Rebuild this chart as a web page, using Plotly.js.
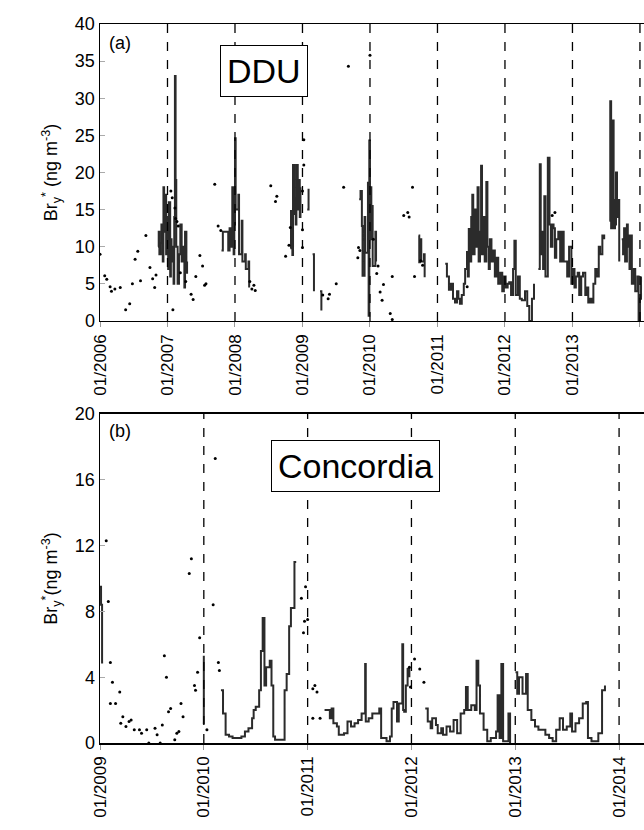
<!DOCTYPE html>
<html><head><meta charset="utf-8">
<script src="https://cdn.plot.ly/plotly-3.0.1.min.js"></script>
<style>body{margin:0;background:#fff}</style></head>
<body><div id="c" style="width:644px;height:830px"></div>
<script>
// ---- DDU (panel a) ----
const ddLineX = [2006.86,2006.87,2006.88,2006.90,2006.91,2006.93,2006.94,2006.95,2006.97,2006.98,2007.00,2007.01,2007.02,2007.04,2007.05,2007.06,2007.08,2007.09,2007.10,2007.11,2007.12,2007.13,2007.15,2007.17,2007.19,2007.21,2007.23,2007.25,2007.26,2007.28,2007.29,null,
 2007.80,2007.82,2007.90,2007.92,2007.95,2007.96,2007.98,2007.99,2008.00,2008.01,2008.05,2008.06,2008.10,2008.11,2008.15,2008.16,2008.20,2008.21,null,
 2008.82,2008.83,2008.85,2008.86,2008.88,2008.89,2008.90,2008.91,2008.93,2008.94,2008.96,2008.97,null,
 2009.07,2009.09,null,2009.15,2009.17,null,2009.26,2009.28,null,
 2009.84,2009.86,2009.88,2009.89,2009.92,2009.93,2009.97,2009.98,2009.99,2010.00,2010.01,2010.02,2010.03,2010.04,2010.08,2010.09,null,
 2010.72,2010.73,2010.74,2010.76,2010.80,2010.81,null,
 2011.115,2011.14,2011.17,2011.20,2011.23,2011.26,2011.29,2011.31,2011.333,2011.36,2011.39,2011.41,2011.438,2011.45,2011.464,2011.48,2011.50,2011.516,2011.53,2011.55,2011.57,2011.594,2011.61,2011.63,2011.646,2011.66,2011.68,2011.70,2011.724,2011.74,2011.76,2011.776,2011.80,2011.828,2011.85,2011.88,2011.90,2011.93,2011.96,2011.984,2012.01,2012.04,2012.063,2012.09,2012.12,2012.14,2012.16,2012.193,2012.22,2012.25,2012.297,2012.33,2012.36,2012.40,2012.43,2012.463,null,
 2012.495,2012.516,2012.53,2012.545,2012.565,2012.583,2012.60,2012.635,2012.66,2012.68,2012.703,2012.72,2012.74,2012.76,2012.79,2012.818,2012.84,2012.87,
 2012.922,2012.95,2012.984,2013.00,2013.03,2013.05,2013.078,2013.10,2013.13,2013.156,2013.19,2013.21,2013.234,2013.26,2013.286,2013.31,2013.338,2013.36,2013.39,2013.41,2013.443,2013.47,2013.495,null,
 2013.547,2013.56,2013.573,2013.59,2013.61,2013.62,2013.63,2013.645,2013.66,2013.675,2013.693,2013.70,null,
 2013.73,2013.75,2013.765,2013.78,2013.807,2013.82,2013.833,2013.845,2013.86,2013.88,2013.91,2013.93,2013.963,2013.98,2014.00,2014.016,2014.04];
const ddLineY = [10,12,9,10.5,13,8,18,12,17,9,14,7,16,6,11,8,10,5,14,33,19,10,5,9,13,8,10,4.5,12,6.5,8,null,
 9.5,12,9.5,12.5,10,18,9,13,24.6,15,17,9,13.5,8,9,7,8,4.5,null,
 9.8,14.8,8.9,21,14.4,16.5,13,21,15,19,14,18,null,
 15,17.8,null,9,4,null,4,1.4,null,
 16.4,17.5,12.8,6.1,14,9.2,18.6,0.7,24.3,11,18,11.5,15.5,7.4,12,8,null,
 11.5,7.9,11,8,9,5.9,null,
 7.7,6,4.2,5,3,2.5,4,3,2.3,3.5,5,7,9.3,6,12.4,8,14,17,9,15,10,18,8,12,20.9,9,14,8,18.7,10,7,11,8,9.5,6,8.5,5,6.5,4,6,4.5,5,5.2,3.5,7,10.8,3.5,6,3,2.8,4,2,0,3,5,null,
 8,7,21.1,9,12,7,16.8,6,22,13,10,13,12.5,8.5,11,12,8,12,
 8,6,10,5,7,4.5,6,6.5,3.5,6,6.5,3.5,4.5,2.5,3,2.5,5,7,6,10,9,11.5,11,null,
 30.2,13.5,29.6,12.5,27,16.3,12.5,13,20,14,16.3,8,null,
 7,11,9,12.5,8,13,10,11.5,7,11.5,5,7,4,6,0,3,6];
const ddDotX = [2006.00,2006.07,2006.10,2006.15,2006.17,2006.22,2006.30,2006.38,2006.44,2006.48,2006.52,2006.56,2006.60,2006.68,2006.74,2006.78,2006.81,2006.83,
 2007.05,2007.07,2007.08,2007.11,2007.12,2007.14,2007.16,2007.19,2007.27,2007.35,2007.38,2007.42,2007.48,2007.52,2007.55,2007.57,2007.70,2007.75,2007.79,
 2008.22,2008.25,2008.28,2008.30,2008.53,2008.60,2008.62,2008.75,2008.80,2008.82,2009.00,2009.00,2009.00,2009.02,2009.02,
 2009.30,2009.38,2009.40,2009.50,2009.61,2009.68,2009.82,2009.83,2009.85,2010.00,2010.05,2010.10,2010.12,2010.15,2010.18,2010.20,2010.30,2010.33,2010.33,
 2010.50,2010.56,2010.58,2010.63,2010.66,2010.75,2010.78,2011.44,2012.70,2012.74];
const ddDotY = [9.0,6.1,5.6,4.6,4.0,4.3,4.5,1.5,2.3,5.0,8.3,9.4,5.4,11.5,7.2,5.7,4.5,6.2,
 17.5,16.6,1.5,15.2,13.8,13.4,12.8,6.5,5.3,3.6,2.9,6.0,8.8,7.4,4.8,5.0,18.4,12.8,12.2,
 5.3,4.3,4.8,4.1,18.2,16.1,16.8,8.7,10.2,12.6,17.5,12.3,9.9,21,24.4,
 3.5,3.0,3.6,5.0,18.0,34.3,8.5,9.9,9.5,35.8,11.0,6.4,7.4,3.9,2.8,4.9,1.0,0.2,6.0,
 14.2,14.6,14.0,18.0,6.0,8.1,7.5,4.6,14.2,14.6];

// ---- Concordia (panel b) ----
const coLineX = [2009.00,2009.01,2009.02,2009.03,null,2009.99,2010.00,null,
 2010.165,2010.185,2010.21,2010.243,2010.277,2010.362,2010.396,2010.43,2010.465,2010.48,2010.50,2010.533,2010.55,2010.567,2010.584,2010.60,2010.635,2010.652,2010.669,2010.686,2010.737,2010.771,2010.778,2010.798,2010.822,2010.839,2010.873,2010.89,null,
 2011.163,2011.214,2011.231,2011.248,2011.282,2011.30,2011.35,2011.384,2011.418,2011.452,2011.486,2011.52,2011.554,2011.56,2011.588,2011.623,2011.657,2011.69,2011.708,2011.76,2011.793,2011.81,2011.827,2011.861,2011.878,2011.912,2011.92,2011.93,2011.946,2011.963,2011.98,null,
 2012.133,2012.157,2012.185,2012.20,2012.236,2012.253,2012.287,2012.304,2012.338,2012.372,2012.406,2012.44,2012.474,2012.508,2012.525,2012.542,2012.576,2012.61,2012.627,2012.644,2012.66,2012.695,2012.73,2012.764,2012.815,2012.83,2012.849,2012.866,2012.883,2012.934,2012.95,null,
 2013.002,2013.019,2013.036,2013.07,2013.104,2013.12,2013.155,2013.19,2013.223,2013.257,2013.29,2013.326,2013.36,2013.394,2013.428,2013.46,2013.496,2013.53,2013.547,2013.58,2013.615,2013.65,2013.683,2013.70,2013.734,2013.768,2013.80,2013.836,2013.864];
const coLineY = [9.5,8.4,4.9,4.9,null,1.2,5.3,null,
 3.2,1.8,0.5,0.4,0.3,0.4,0.7,0.9,1.5,2.0,2.2,3.2,5.6,7.6,3.5,4.6,5.0,3.5,0.4,0.2,0.2,0.2,3.2,4.2,7.1,8.2,11.0,11.0,null,
 2.0,1.5,2.1,1.2,1.0,0.5,0.6,1.3,1.0,1.2,1.4,1.8,4.8,1.3,1.5,1.8,1.8,2.1,0.3,0.1,0.4,2.1,2.5,1.3,2.4,6.0,2.0,1.9,3.5,4.5,4.0,null,
 2.1,1.3,0.9,1.5,1.1,0.6,0.9,0.5,1.0,0.7,1.4,0.6,1.8,2.0,3.4,2.0,2.3,2.0,5.0,3.5,1.8,0.8,0.1,0.3,0.7,2.9,0.3,4.8,0.1,1.8,0,null,
 4.3,3.0,4.0,3.0,4.2,2.0,1.4,1.0,0.8,0.8,0.5,0.3,0.1,0.8,1.5,0.8,1.0,1.8,0.7,1.2,1.5,2.4,2.5,0.3,0.1,0.1,0.6,3.2,3.5];
const coDotX = [2009.06,2009.08,2009.10,2009.12,2009.10,2009.15,2009.19,2009.20,2009.22,2009.25,2009.28,2009.30,2009.33,2009.38,2009.40,2009.45,2009.47,2009.53,2009.55,2009.58,2009.60,2009.62,2009.64,2009.66,2009.68,2009.72,2009.74,2009.76,2009.78,2009.80,2009.86,2009.88,2009.91,2009.92,2009.94,2009.96,
 2010.03,2010.09,2010.11,2010.14,2010.15,2010.94,2010.96,2010.97,2010.98,2011.00,2011.05,2011.07,2011.09,2011.05,2011.12,
 2011.98,2011.99,2012.03,2012.08,2012.12];
const coDotY = [12.3,8.6,4.9,3.7,2.4,2.4,3.1,1.2,1.6,1.0,1.3,1.4,0.8,0.8,0.6,0.8,0,0.9,0.5,0,1.1,5.3,4.0,1.9,2.1,0.2,0.6,0.7,2.4,1.6,10.3,11.2,3.5,3.2,4.3,6.4,
 0.8,8.4,17.3,4.9,4.4,8.8,6.7,7.4,9.5,7.5,3.3,3.5,3.1,1.5,1.5,
 4.6,3.4,5.1,4.5,3.7];

const topYears = [2006,2007,2008,2009,2010,2011,2012,2013,2014];
const botYears = [2009,2010,2011,2012,2013,2014];
const topTicks = [0,5,10,15,20,25,30,35,40];
const botTicks = [0,4,8,12,16,20];

const lineStyle = {color:'#2b2b2b', width:2, shape:'hv'};
const dotStyle = {color:'#000', size:3};
const traces = [
 {x:ddLineX,y:ddLineY,mode:'lines',line:lineStyle,connectgaps:false,xaxis:'x',yaxis:'y'},
 {x:ddDotX,y:ddDotY,mode:'markers',marker:dotStyle,xaxis:'x',yaxis:'y'},
 {x:coLineX,y:coLineY,mode:'lines',line:lineStyle,connectgaps:false,xaxis:'x2',yaxis:'y2'},
 {x:coDotX,y:coDotY,mode:'markers',marker:dotStyle,xaxis:'x2',yaxis:'y2'}
];
const shapes = [];
topYears.slice(1).forEach(v=>shapes.push({type:'line',xref:'x',yref:'y domain',x0:v,x1:v,y0:0,y1:1,line:{color:'#000',width:1.3,dash:'dash'}}));
botYears.slice(1).forEach(v=>shapes.push({type:'line',xref:'x2',yref:'y2 domain',x0:v,x1:v,y0:0,y1:1,line:{color:'#000',width:1.3,dash:'dash'}}));
const lab = y=>'01/'+y;
const font = {family:'Liberation Sans, Arial, sans-serif', color:'#000'};
const xa = (years, range, anchor)=>({range, anchor, domain:[0,1], tickvals:years, ticktext:years.map(lab), tickangle:-90,
  tickfont:{...font,size:17}, ticks:'outside', ticklen:5, tickcolor:'#999', showgrid:false, zeroline:false, showline:true, linecolor:'#000', linewidth:1.5, mirror:true});
const ya = (ticks, range, dom, title)=>({range, domain:dom, tickvals:ticks, tickfont:{...font,size:18}, ticks:'inside', ticklen:5, tickcolor:'#aaa',
  showgrid:false, zeroline:false, showline:true, linecolor:'#000', linewidth:1.5, mirror:true, title:{text:title, font:{...font,size:18}, standoff:12}});
const layout = {
 width:644, height:830, margin:{l:100,r:0,t:24,b:87}, showlegend:false, paper_bgcolor:'#fff', plot_bgcolor:'#fff', font:font,
 xaxis: xa(topYears,[2006,2014.06],'y'),
 yaxis: ya(topTicks,[0,40],[0.587,1],'Br<sub>y</sub><sup>*</sup> (ng m<sup>-3</sup>)'),
 xaxis2: xa(botYears,[2009,2014.24],'y2'),
 yaxis2: ya(botTicks,[0,20],[0,0.4576],'Br<sub>y</sub><sup>*</sup>(ng m<sup>-3</sup>)'),
 shapes: shapes,
 annotations:[
  {xref:'paper',yref:'paper',x:0.012,y:0.99,xanchor:'left',yanchor:'top',text:'(a)',showarrow:false,font:{...font,size:18}},
  {xref:'paper',yref:'paper',x:0.302,y:0.935,xanchor:'center',yanchor:'middle',text:'DDU',showarrow:false,font:{...font,size:34},bordercolor:'#000',borderwidth:1,borderpad:6,bgcolor:'#fff'},
  {xref:'paper',yref:'paper',x:0.012,y:0.45,xanchor:'left',yanchor:'top',text:'(b)',showarrow:false,font:{...font,size:18}},
  {xref:'paper',yref:'paper',x:0.47,y:0.385,xanchor:'center',yanchor:'middle',text:'Concordia',showarrow:false,font:{...font,size:34},bordercolor:'#000',borderwidth:1,borderpad:6,bgcolor:'#fff'}
 ]
};
Plotly.newPlot('c',traces,layout,{staticPlot:true});
</script></body></html>
